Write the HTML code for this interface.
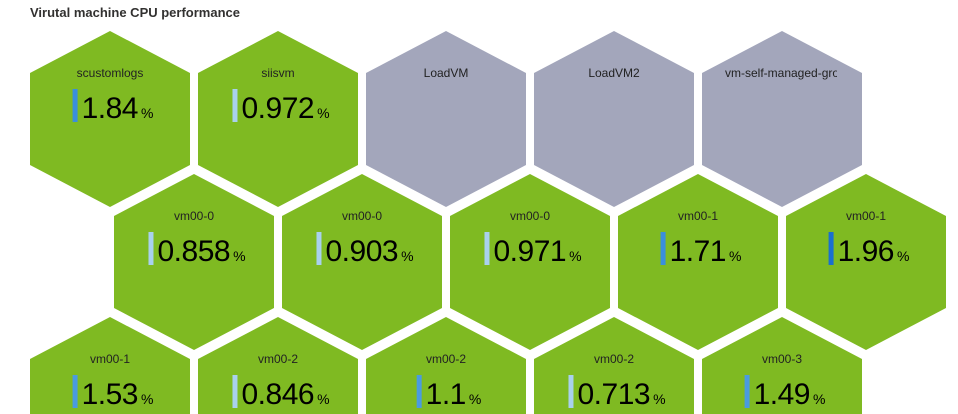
<!DOCTYPE html>
<html><head><meta charset="utf-8"><style>
body{margin:0;background:#fff;width:958px;height:414px;overflow:hidden;font-family:"Liberation Sans",sans-serif}
#title{position:absolute;left:30px;top:5px;font-size:13px;font-weight:bold;color:#323130}
svg{position:absolute;left:0;top:0;overflow:hidden}
</style></head><body>
<svg id="chart" width="958" height="414"></svg>
<div id="title">Virutal machine CPU performance</div>
<script>
const names = ["scustomlogs","siisvm","LoadVM","LoadVM2","vm-self-managed-group","vm00-0","vm00-0","vm00-0","vm00-1","vm00-1","vm00-1","vm00-2","vm00-2","vm00-2","vm00-3"];
const values = [1.84,0.972,null,null,null,0.858,0.903,0.971,1.71,1.96,1.53,0.846,1.1,0.713,1.49];
const labels = ["1.84","0.972","","","","0.858","0.903","0.971","1.71","1.96","1.53","0.846","1.1","0.713","1.49"];
const rowOf = [0,0,0,0,0,1,1,1,1,1,2,2,2,2,2];
const colOf = [0,1,2,3,4,0,1,2,3,4,0,1,2,3,4];

const NS="http://www.w3.org/2000/svg";
const svg=document.getElementById('chart');
function cxOf(r,c){return 110+c*168+(r%2)*84;}
function cyOf(r){return 119+r*143;}
function barColor(v){if(v<1)return "#a9d1ee";if(v<1.6)return "#4a9be0";if(v<1.9)return "#3a8fdc";return "#1a6fd0";}
function mk(t,a){const e=document.createElementNS(NS,t);for(const k in a)e.setAttribute(k,a[k]);return e;}
const defs=mk('defs',{});svg.appendChild(defs);
for(let i=0;i<names.length;i++){
  const cx=cxOf(rowOf[i],colOf[i]),cy=cyOf(rowOf[i]);
  const g=mk('g',{});
  
  
  svg.appendChild(g);
  const pts=[[cx,cy-88],[cx+80,cy-46],[cx+80,cy+46],[cx,cy+88],[cx-80,cy+46],[cx-80,cy-46]].map(p=>p.join(',')).join(' ');
  const hex=mk('polygon',{points:pts,fill:values[i]==null?"#a3a6bb":"#7fba22"});
  
  
  g.appendChild(hex);
  const cp=mk('clipPath',{id:'cp'+i});cp.appendChild(mk('rect',{x:cx-57,y:cy-70,width:112,height:40}));defs.appendChild(cp);
  const nm=mk('text',{x:cx,y:cy-42,'text-anchor':'middle','font-size':12,fill:'#222','clip-path':'url(#cp'+i+')'});
  nm.textContent=names[i];
  
  
  g.appendChild(nm);
  if(nm.getComputedTextLength()>112){nm.setAttribute('text-anchor','start');nm.setAttribute('x',cx-57);}
  if(values[i]!=null){
    const t=mk('text',{y:cy-1,fill:'#000'});
    const s1=mk('tspan',{'font-size':30,'letter-spacing':'-0.5'});s1.textContent=labels[i];
    const s2=mk('tspan',{'font-size':14,dx:3});s2.textContent='%';
    t.appendChild(s1);t.appendChild(s2);
    
    
    g.appendChild(t);
    const w=t.getComputedTextLength();
    const total=w+10;
    const x0=cx-total/2+2;
    t.setAttribute('x',x0+9);
    const bar=mk('rect',{x:x0,y:cy-30,width:5,height:33,fill:barColor(values[i])});
    
    
    g.appendChild(bar);
  }
}
</script>
</body></html>
